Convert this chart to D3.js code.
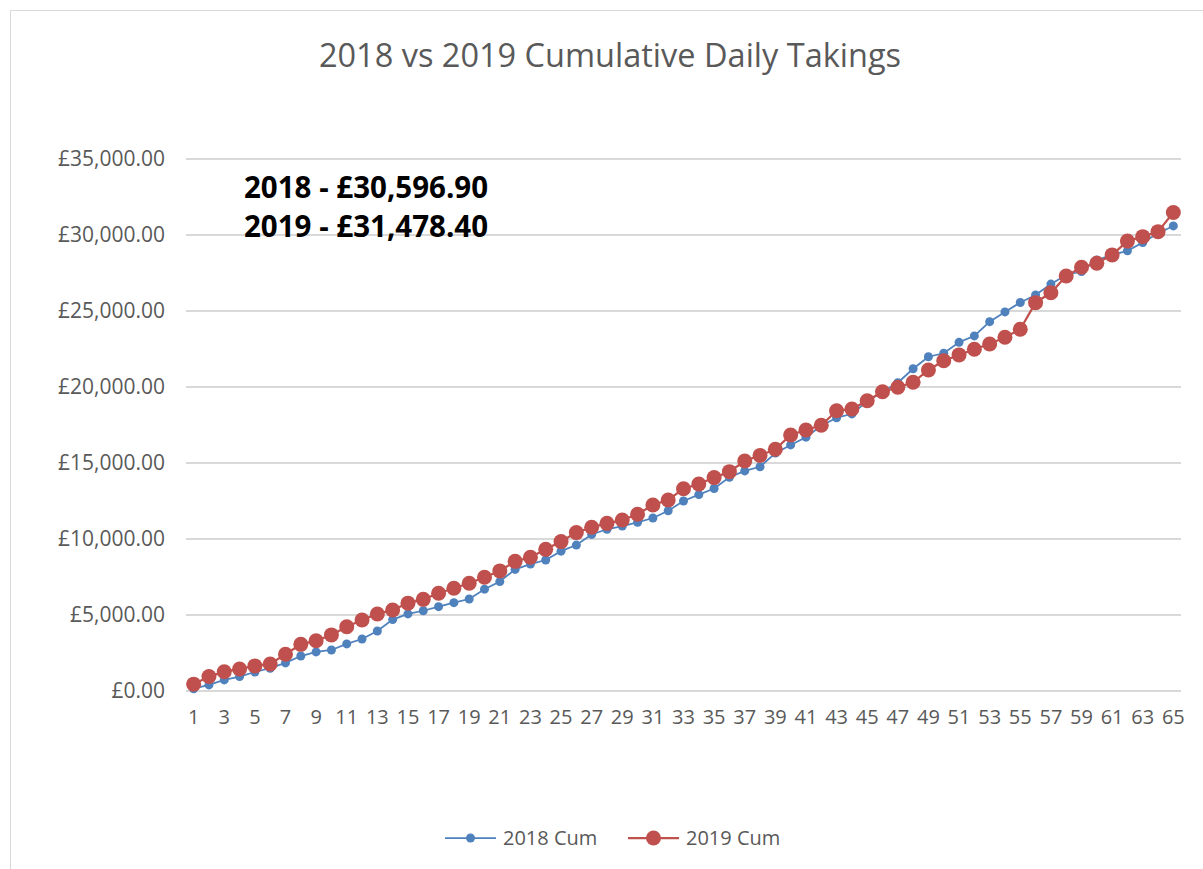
<!DOCTYPE html>
<html lang="en">
<head>
    <meta charset="UTF-8">
    <title>2018 vs 2019 Cumulative Daily Takings</title>
    <script src="https://d3js.org/d3.v7.min.js"></script>
    <style>
        body {
            margin: 0;
            background: #fff;
            font-family: "Open Sans", sans-serif;
        }
    </style>
</head>
<body>
    <div id="chart"></div>
    <script>
        // days 1..65
        const days = d3.range(1, 66);

        const cum2018 = [
            150, 400, 730, 950, 1250, 1500, 1850, 2300, 2570, 2700,
            3100, 3420, 3950, 4700, 5070, 5280, 5550, 5810, 6050, 6700,
            7200, 8000, 8350, 8620, 9200, 9600, 10300, 10640, 10850, 11100,
            11380, 11860, 12500, 12920, 13320, 14060, 14480, 14750, 15650, 16190,
            16700, 17450, 17980, 18230, 19050, 19680, 20280, 21200, 21990, 22220,
            22940, 23360, 24300, 24940, 25560, 26050, 26770, 27370, 27600, 28360,
            28690, 28960, 29500, 30110, 30596.9
        ];

        const cum2019 = [
            450, 950, 1270, 1450, 1650, 1780, 2420, 3070, 3310, 3690,
            4230, 4670, 5070, 5330, 5780, 6030, 6430, 6760, 7090, 7480,
            7900, 8530, 8800, 9320, 9830, 10420, 10770, 11030, 11250, 11630,
            12240, 12570, 13310, 13620, 14040, 14430, 15130, 15500, 15900, 16840,
            17170, 17480, 18440, 18550, 19100, 19690, 19980, 20310, 21120, 21730,
            22110, 22480, 22830, 23270, 23800, 25550, 26200, 27300, 27880, 28140,
            28690, 29600, 29890, 30220, 31478.4
        ];

        const yTicks = [0, 5000, 10000, 15000, 20000, 25000, 30000, 35000];
        const seriesNames = ["2018 Cum", "2019 Cum"];
        const totals = ["2018 - £30,596.90", "2019 - £31,478.40"];

        const W = 1203, H = 869;
        const margin = {top: 159, right: 22, bottom: 178, left: 186};

        const svg = d3.select("#chart")
            .append("svg")
            .attr("width", W)
            .attr("height", H);

        // chart frame
        svg.append("rect")
            .attr("x", 10.5).attr("y", 10.5)
            .attr("width", W).attr("height", H)
            .attr("fill", "none")
            .attr("stroke", "#d9d9d9");

        svg.append("text")
            .attr("x", 610)
            .attr("y", 67)
            .attr("text-anchor", "middle")
            .attr("fill", "#595959")
            .style("font-size", "32.5px")
            .text("2018 vs 2019 Cumulative Daily Takings");

        const x = d3.scaleBand()
            .domain(days)
            .range([margin.left, W - margin.right]);

        const y = d3.scaleLinear()
            .domain([0, 35000])
            .range([H - margin.bottom, margin.top]);

        const cx = d => x(d) + x.bandwidth() / 2;
        const fmt = v => "£" + d3.format(",.2f")(v);

        // gridlines
        svg.append("g")
            .selectAll("line")
            .data(yTicks)
            .enter().append("line")
            .attr("x1", margin.left)
            .attr("x2", W - margin.right)
            .attr("y1", d => y(d))
            .attr("y2", d => y(d))
            .attr("stroke", "#d9d9d9")
            .attr("stroke-width", 2);

        const yAxis = svg.append("g")
            .attr("transform", `translate(${margin.left},0)`)
            .call(d3.axisLeft(y).tickValues(yTicks).tickFormat(fmt).tickSize(0).tickPadding(21));
        yAxis.select(".domain").remove();
        yAxis.selectAll("text")
            .attr("fill", "#595959")
            .style("font-family", "'Open Sans', sans-serif")
            .style("font-size", "21px");

        const xAxis = svg.append("g")
            .attr("transform", `translate(0,${H - margin.bottom})`)
            .call(d3.axisBottom(x).tickValues(days.filter(d => d % 2 === 1)).tickSize(0).tickPadding(19));
        xAxis.select(".domain").remove();
        xAxis.selectAll("text")
            .attr("fill", "#595959")
            .style("font-family", "'Open Sans', sans-serif")
            .style("font-size", "20px");

        const line = d3.line()
            .x((d, i) => cx(days[i]))
            .y(d => y(d));

        // 2018 series
        svg.append("path")
            .datum(cum2018)
            .attr("fill", "none")
            .attr("stroke", "#4f81bd")
            .attr("stroke-width", 1.75)
            .attr("d", line);
        svg.append("g")
            .selectAll("circle")
            .data(cum2018)
            .enter().append("circle")
            .attr("cx", (d, i) => cx(days[i]))
            .attr("cy", d => y(d))
            .attr("r", 4.5)
            .attr("fill", "#4f81bd");

        // 2019 series
        svg.append("path")
            .datum(cum2019)
            .attr("fill", "none")
            .attr("stroke", "#c0504d")
            .attr("stroke-width", 2.25)
            .attr("d", line);
        svg.append("g")
            .selectAll("circle")
            .data(cum2019)
            .enter().append("circle")
            .attr("cx", (d, i) => cx(days[i]))
            .attr("cy", d => y(d))
            .attr("r", 7.5)
            .attr("fill", "#c0504d");

        // totals annotation
        svg.append("g")
            .selectAll("text")
            .data(totals)
            .enter().append("text")
            .attr("x", 244)
            .attr("y", (d, i) => 198 + i * 39)
            .attr("fill", "#000")
            .style("font-weight", "bold")
            .style("font-size", "29.5px")
            .text(d => d);

        // legend
        const legend = svg.append("g");
        const legendItems = [
            {name: seriesNames[0], color: "#4f81bd", r: 4.5, w: 1.75, x: 445, tx: 503},
            {name: seriesNames[1], color: "#c0504d", r: 7.5, w: 2.25, x: 628, tx: 686}
        ];
        legendItems.forEach(it => {
            legend.append("line")
                .attr("x1", it.x).attr("x2", it.x + 51)
                .attr("y1", 838).attr("y2", 838)
                .attr("stroke", it.color)
                .attr("stroke-width", it.w);
            legend.append("circle")
                .attr("cx", it.x + 25.5).attr("cy", 838)
                .attr("r", it.r)
                .attr("fill", it.color);
            legend.append("text")
                .attr("x", it.tx).attr("y", 845)
                .attr("fill", "#595959")
                .style("font-size", "20px")
                .text(it.name);
        });
    </script>
</body>
</html>
